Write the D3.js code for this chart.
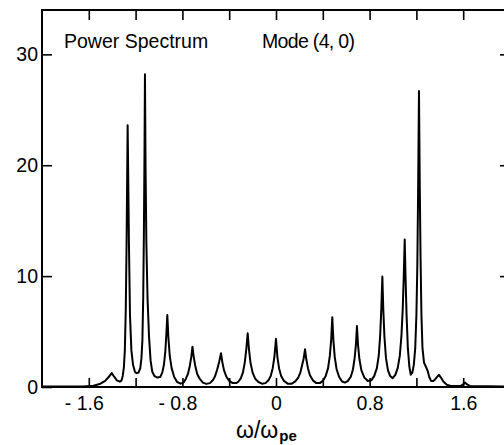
<!DOCTYPE html>
<html>
<head>
<meta charset="utf-8">
<script src="https://cdn.jsdelivr.net/npm/d3@7"></script>
<style>
  body { margin: 0; background: #fff; }
  svg { display: block; font-family: "Liberation Sans", Arial, Helvetica, sans-serif; }
</style>
</head>
<body>
<div id="chart"></div>
<script>
// Power spectrum trace (omega / omega_pe, power)
const omega = [
  -2.00, -1.65, -1.56, -1.50, -1.46, -1.43, -1.404, -1.385, -1.36, -1.335,
  -1.32, -1.31, -1.30, -1.292, -1.284, -1.277, -1.272, -1.268, -1.263, -1.257,
  -1.248, -1.236, -1.222, -1.205, -1.19, -1.175, -1.16, -1.15, -1.142, -1.135,
  -1.129, -1.124, -1.12, -1.115, -1.108, -1.098, -1.085, -1.072, -1.058, -1.04,
  -1.015, -0.99, -0.972, -0.958, -0.946, -0.937, -0.929, -0.92, -0.908, -0.892,
  -0.87, -0.845, -0.815, -0.79, -0.77, -0.752, -0.737, -0.724, -0.714, -0.703,
  -0.69, -0.674, -0.653, -0.625, -0.595, -0.565, -0.54, -0.52, -0.502, -0.485,
  -0.47, -0.458, -0.444, -0.425, -0.40, -0.37, -0.34, -0.32, -0.30, -0.283,
  -0.267, -0.254, -0.242, -0.231, -0.218, -0.20, -0.178, -0.15, -0.12, -0.09,
  -0.065, -0.045, -0.028, -0.014, 0.0, 0.012, 0.026, 0.044, 0.068, 0.10,
  0.135, 0.165, 0.19, 0.208, 0.224, 0.237, 0.248, 0.259, 0.273, 0.29,
  0.315, 0.345, 0.375, 0.40, 0.425, 0.445, 0.46, 0.472, 0.481, 0.49,
  0.502, 0.518, 0.54, 0.565, 0.59, 0.615, 0.64, 0.658, 0.672, 0.683,
  0.692, 0.701, 0.713, 0.73, 0.755, 0.785, 0.815, 0.84, 0.862, 0.878,
  0.89, 0.90, 0.909, 0.917, 0.927, 0.94, 0.957, 0.975, 0.997, 1.02,
  1.04, 1.058, 1.072, 1.083, 1.092, 1.10, 1.107, 1.116, 1.127, 1.14,
  1.152, 1.165, 1.178, 1.19, 1.20, 1.208, 1.215, 1.222, 1.228, 1.235,
  1.243, 1.252, 1.265, 1.28, 1.295, 1.31, 1.325, 1.345, 1.365, 1.38,
  1.393, 1.41, 1.43, 1.46, 1.50, 1.58, 1.60, 1.615, 1.63, 1.66,
  2.0
];
const power = [
  0.05, 0.05, 0.12, 0.3, 0.55, 0.9, 1.25, 0.95, 0.6, 0.48,
  0.6, 1.0, 1.8, 3.3, 7.0, 13.0, 19.0, 23.6, 19.0, 13.0,
  6.5, 3.3, 2.0, 1.35, 1.25, 1.3, 1.7, 2.6, 4.2, 8.0,
  14.0, 21.0, 28.2, 20.0, 13.0, 8.0, 4.5, 2.4, 1.4, 1.0,
  0.85, 0.9, 1.3, 2.0, 3.2, 4.8, 6.5, 4.5, 2.8, 1.7,
  0.9, 0.45, 0.3, 0.4, 0.75, 1.2, 1.9, 2.7, 3.64, 2.7,
  1.9, 1.2, 0.75, 0.4, 0.28, 0.35, 0.6, 1.0, 1.6, 2.3,
  3.04, 2.2, 1.5, 0.95, 0.55, 0.35, 0.35, 0.5, 0.8, 1.3,
  2.2, 3.4, 4.85, 3.4, 2.2, 1.3, 0.75, 0.45, 0.3, 0.35,
  0.6, 1.0, 1.7, 2.7, 4.34, 2.7, 1.7, 1.0, 0.55, 0.3,
  0.3, 0.5, 0.85, 1.3, 2.0, 2.6, 3.4, 2.5, 1.7, 1.05,
  0.6, 0.35, 0.35, 0.55, 1.0, 1.7, 2.8, 4.3, 6.3, 4.3,
  2.7, 1.6, 0.9, 0.5, 0.4, 0.55, 0.95, 1.6, 2.6, 3.8,
  5.5, 3.8, 2.5, 1.5, 0.85, 0.55, 0.6, 1.0, 1.7, 2.8,
  4.6, 7.0, 9.96, 7.0, 4.5, 2.6, 1.5, 1.0, 0.8, 1.1,
  1.7, 2.8, 4.6, 7.0, 10.0, 13.3, 10.0, 6.5, 3.5, 1.8,
  1.1, 1.3, 2.0, 3.5, 6.5, 11.0, 18.0, 26.7, 19.0, 12.0,
  6.5, 3.5, 2.2, 1.85, 1.5, 0.9, 0.55, 0.55, 0.75, 0.95,
  1.1, 0.85, 0.5, 0.2, 0.08, 0.1, 0.25, 0.4, 0.25, 0.08,
  0.05
];

// Ticks and labels
const xTicks = [-1.6, -1.2, -0.8, -0.4, 0, 0.4, 0.8, 1.2, 1.6];
const xLabelled = [-1.6, -0.8, 0, 0.8, 1.6];
const yTicks = [0, 10, 20, 30];
const titleLeft = "Power Spectrum";
const titleRight = "Mode (4, 0)";

const W = 504, H = 445;
const margin = { left: 42, top: 10, right: 510, bottom: 387 };

const svg = d3.select('#chart')
  .append('svg')
  .attr('width', W)
  .attr('height', H);

const x = d3.scaleLinear().domain([-2, 2]).range([margin.left, margin.right]);
const y = d3.scaleLinear().domain([0, 34]).range([margin.bottom, margin.top]);

const data = omega.map((w, i) => ({ w: w, p: power[i] }));

// Spectrum line
const line = d3.line()
  .x(d => x(d.w))
  .y(d => y(d.p));

svg.append('path')
  .datum(data)
  .attr('fill', 'none')
  .attr('stroke', '#000')
  .attr('stroke-width', 2)
  .attr('stroke-linejoin', 'round')
  .attr('d', line);

// Frame
svg.append('rect')
  .attr('x', margin.left)
  .attr('y', margin.top)
  .attr('width', margin.right - margin.left)
  .attr('height', margin.bottom - margin.top)
  .attr('fill', 'none')
  .attr('stroke', '#000')
  .attr('stroke-width', 2);

const fmtX = d => {
  if (!xLabelled.some(v => Math.abs(v - d) < 1e-9)) return '';
  if (d === 0) return '0';
  return (d < 0 ? '- ' : '') + Math.abs(d).toFixed(1);
};

// Bottom axis, ticks pointing in
const gx = svg.append('g')
  .attr('transform', `translate(0,${margin.bottom})`)
  .call(d3.axisBottom(x).tickValues(xTicks).tickSize(-9).tickPadding(9.5).tickFormat(fmtX));
gx.select('.domain').remove();
gx.selectAll('line').attr('stroke-width', 1.6);
gx.selectAll('text')
  .attr('font-size', 19.5)
  .attr('font-family', '"Liberation Sans", Arial, sans-serif')
  .attr('fill', '#000')
  .attr('dx', d => d < 0 ? -5 : 0);

// Top axis, no labels
const gt = svg.append('g')
  .attr('transform', `translate(0,${margin.top})`)
  .call(d3.axisTop(x).tickValues(xTicks).tickSize(-10).tickFormat(''));
gt.select('.domain').remove();
gt.selectAll('line').attr('stroke-width', 1.6);

// Left axis
const gy = svg.append('g')
  .attr('transform', `translate(${margin.left},0)`)
  .call(d3.axisLeft(y).tickValues(yTicks).tickSize(-10).tickPadding(4));
gy.select('.domain').remove();
gy.selectAll('line').attr('stroke-width', 1.6);
gy.selectAll('text')
  .attr('font-size', 19.5)
  .attr('font-family', '"Liberation Sans", Arial, sans-serif')
  .attr('fill', '#000');

// Right axis, no labels
const gr = svg.append('g')
  .attr('transform', `translate(${margin.right},0)`)
  .call(d3.axisRight(y).tickValues(yTicks.slice(1)).tickSize(-10).tickFormat(''));
gr.select('.domain').remove();
gr.selectAll('line').attr('stroke-width', 1.6);

// Titles inside the frame
svg.append('text')
  .attr('x', 64)
  .attr('y', 48)
  .attr('font-size', 19.5)
  .text(titleLeft);

svg.append('text')
  .attr('x', 262)
  .attr('y', 48)
  .attr('font-size', 19.5)
  .attr('textLength', 93)
  .text(titleRight);

// x axis title: omega / omega_pe
const xt = svg.append('text')
  .attr('x', 236)
  .attr('y', 438)
  .attr('font-size', 23);
xt.append('tspan').text('ω/ω');
xt.append('tspan')
  .attr('font-size', 15)
  .attr('font-weight', 'bold')
  .attr('dy', 3)
  .attr('dx', 1)
  .text('pe');
</script>
</body>
</html>
